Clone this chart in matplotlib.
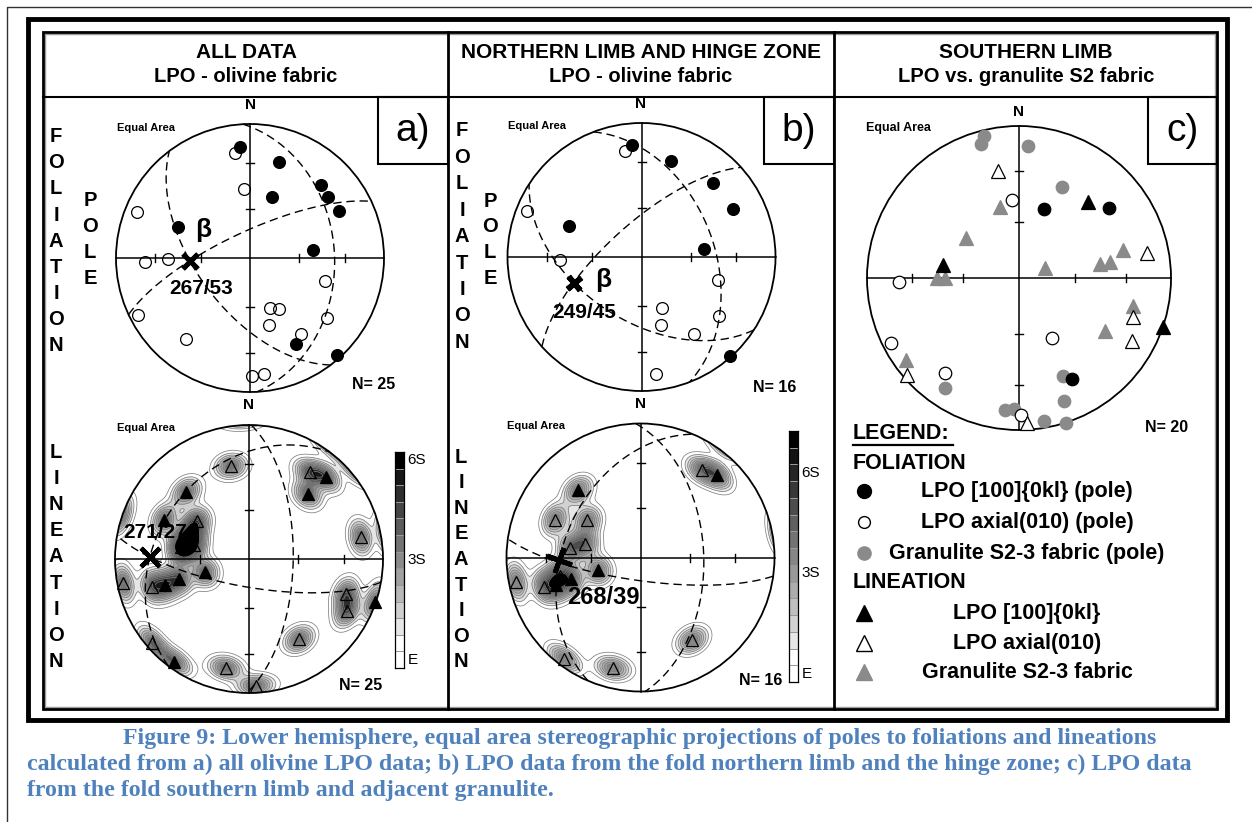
import numpy as np
import matplotlib
matplotlib.use("Agg")
import matplotlib.pyplot as plt
from matplotlib.patches import Rectangle, Circle

plt.rcParams["font.family"] = ["Liberation Sans", "DejaVu Sans"]

W, H = 1252, 822
CAPTION_BLUE = "#4f81bd"
GREY = "#8a8a8a"

# ---------------- data (trend / plunge in degrees) ----------------
# a) all data - foliation poles
a_fol_lpo_trend = [355, 17, 20, 44, 52, 62, 293, 83, 152, 138]
a_fol_lpo_plunge = [18, 26, 50, 25, 27, 26, 41, 51, 28, 3]
a_fol_ax_trend = [352, 355, 292, 268, 269, 107, 158, 150, 164, 128, 146, 218, 243, 179, 173]
a_fol_ax_plunge = [22, 47, 10, 23, 39, 41, 57, 54, 47, 28, 32, 24, 7, 13, 14]
a_fol_gc_dipdir = [87, 233, 335]
a_fol_gc_dip = [37, 58, 74]
a_fol_beta = (267, 53)

# a) all data - lineations
a_lin_lpo_trend = [43, 42, 317, 295, 280, 253, 254, 253, 109, 216]
a_lin_lpo_plunge = [17, 35, 32, 31, 49, 62, 45, 35, 1, 6]
a_lin_ax_trend = [349, 35, 306, 284, 280, 79, 259, 254, 110, 118, 229, 148, 192, 177, 294]
a_lin_ax_plunge = [30, 22, 50, 55, 47, 16, 5, 26, 24, 18, 5, 30, 18, 6, 51]
a_lin_gc_dipdir = [91, 307, 190]
a_lin_gc_dip = [63, 32, 73]
a_lin_beta = (271, 27)

# b) northern limb and hinge zone - foliation poles
b_fol_lpo_trend = [355, 17, 44, 62, 293, 83, 138]
b_fol_lpo_plunge = [17, 26, 24, 24, 41, 51, 1]
b_fol_ax_trend = [351, 292, 268, 107, 158, 164, 127, 146, 173]
b_fol_ax_plunge = [21, 9, 39, 40, 56, 46, 28, 31, 13]
b_fol_gc_dipdir = [69, 213, 318]
b_fol_gc_dip = [45, 51, 70]
b_fol_beta = (249, 45)

# b) northern limb and hinge zone - lineations
b_lin_lpo_trend = [43, 317, 253, 253, 252]
b_lin_lpo_plunge = [17, 32, 63, 45, 34]
b_lin_ax_trend = [35, 294, 305, 284, 278, 259, 253, 148, 217, 194, 257]
b_lin_ax_plunge = [21, 31, 50, 55, 46, 6, 26, 28, 6, 16, 38]
b_lin_gc_dipdir = [88, 188, 293]
b_lin_gc_dip = [51, 76, 42]
b_lin_beta = (268, 39)

# c) southern limb - LPO vs granulite
c_fol_lpo_trend = [20, 52, 152]
c_fol_lpo_plunge = [50, 26, 26]
c_fol_ax_trend = [355, 268, 151, 243, 218, 179]
c_fol_ax_plunge = [47, 22, 53, 6, 22, 11]
c_fol_gran_trend = [346, 344, 4, 25, 214, 156, 160, 186, 182, 170, 162]
c_fol_gran_plunge = [4, 9, 14, 34, 14, 30, 15, 14, 15, 5, 0]
c_lin_lpo_trend = [42, 280, 109]
c_lin_lpo_plunge = [33, 48, 0]
c_lin_ax_trend = [349, 79, 109, 119, 229, 177]
c_lin_ax_plunge = [29, 15, 22, 16, 3, 5]
c_lin_gran_trend = [345, 307, 70, 80, 80, 75, 270, 270, 104, 122, 234]
c_lin_gran_plunge = [50, 54, 75, 45, 39, 30, 45, 50, 24, 34, 9]

headers = [("ALL DATA", "LPO - olivine fabric"),
           ("NORTHERN LIMB AND HINGE ZONE", "LPO - olivine fabric"),
           ("SOUTHERN LIMB", "LPO vs. granulite S2 fabric")]
panel_tags = ["a)", "b)", "c)"]
n_counts = [25, 25, 16, 16, 20]
legend_labels = ["LPO [100]{0kl} (pole)", "LPO axial(010) (pole)", "Granulite S2-3 fabric (pole)",
                 "LPO [100]{0kl}", "LPO axial(010)", "Granulite S2-3 fabric"]
caption = ["Figure 9: Lower hemisphere, equal area stereographic projections of poles to foliations and lineations",
           "calculated from a) all olivine LPO data; b) LPO data from the fold northern limb and the hinge zone; c) LPO data",
           "from the fold southern limb and adjacent granulite."]


# ---------------- helpers ----------------
def project(trend, plunge):
    """Lower hemisphere equal-area projection, primitive radius = 1."""
    t = np.radians(np.asarray(trend, float))
    p = np.radians(np.asarray(plunge, float))
    rho = np.sqrt(2) * np.sin((np.pi / 2 - p) / 2)
    return rho * np.sin(t), rho * np.cos(t)


def plane_trace(dipdir, dip, n=241):
    d, dp = np.radians(dipdir), np.radians(dip)
    s = d - np.pi / 2
    sv = np.array([np.sin(s), np.cos(s), 0.0])
    dv = np.array([np.cos(dp) * np.sin(d), np.cos(dp) * np.cos(d), np.sin(dp)])
    a = np.linspace(0, np.pi, n)
    v = np.outer(np.cos(a), sv) + np.outer(np.sin(a), dv)
    tr = np.degrees(np.arctan2(v[:, 0], v[:, 1]))
    pl = np.degrees(np.arcsin(np.clip(v[:, 2], -1, 1)))
    return project(tr, pl)


def net_axes(fig, cx, cy, R):
    ax = fig.add_axes([(cx - R) / W, 1 - (cy + R) / H, 2 * R / W, 2 * R / H])
    ax.set_xlim(-1, 1)
    ax.set_ylim(-1, 1)
    ax.axis("off")
    return ax


def draw_net(ax, R):
    prim = Circle((0, 0), 1, fill=False, lw=1.3, ec="k", clip_on=False, zorder=5)
    ax.add_patch(prim)
    ax.plot([-1, 1], [0, 0], color="k", lw=1.1, zorder=5, clip_on=False)
    ax.plot([0, 0], [-1, 1], color="k", lw=1.1, zorder=5, clip_on=False)
    tick = 4.0 / R
    for pl in (60, 30):
        rho = project(90, pl)[0]
        for s in (-1, 1):
            ax.plot([s * rho] * 2, [-tick, tick], color="k", lw=1.0, zorder=5)
            ax.plot([-tick, tick], [s * rho] * 2, color="k", lw=1.0, zorder=5)


def draw_planes(ax, dipdirs, dips):
    for dd, dp in zip(dipdirs, dips):
        x, y = plane_trace(dd, dp)
        ax.plot(x, y, color="k", lw=1.0, dashes=(6, 3.5), zorder=4, clip_on=False)


def band_greys(nband):
    g = list(np.linspace(0.9, 0.0, nband - 2))
    return [1.0, 1.0] + g


def draw_density(ax, trend, plunge, nband, kappa=110.0, scale=4.0):
    xs = np.linspace(-1, 1, 321)
    X, Y = np.meshgrid(xs, xs)
    rho = np.clip(np.hypot(X, Y), 0, 1)
    th = 2 * np.arcsin(rho / np.sqrt(2))
    az = np.arctan2(X, Y)
    g = np.stack([np.sin(th) * np.sin(az), np.sin(th) * np.cos(az), np.cos(th)], axis=-1)
    t, p = np.radians(trend), np.radians(plunge)
    v = np.stack([np.cos(p) * np.sin(t), np.cos(p) * np.cos(t), np.sin(p)], axis=-1)
    c = np.abs(g @ v.T)
    D = scale * np.exp(kappa * (c - 1)).sum(axis=-1)
    levels = 0.5 * np.arange(1, nband)
    greys = band_greys(nband)
    cols = [str(v_) for v_ in greys[1:]]
    clip = Circle((0, 0), 1, transform=ax.transData, fill=False, lw=0)
    cf = ax.contourf(X, Y, D, levels=list(levels) + [1e9], colors=cols, zorder=1)
    cl = ax.contour(X, Y, D, levels=levels, colors="#808080", linewidths=0.55, zorder=2)
    cf.set_clip_path(clip)
    cl.set_clip_path(clip)


def draw_colorbar(fig, x0, y0, x1, y1, nband, labels, fs=11):
    cax = fig.add_axes([x0 / W, 1 - y1 / H, (x1 - x0) / W, (y1 - y0) / H])
    greys = band_greys(nband)
    vals = np.arange(nband).reshape(-1, 1)
    cax.pcolormesh(np.array([0, 1]), np.arange(nband + 1), vals,
                   cmap=matplotlib.colors.ListedColormap([str(g) for g in greys]),
                   vmin=-0.5, vmax=nband - 0.5, edgecolors="#999999", linewidth=0.4)
    cax.set_xlim(0, 1)
    cax.set_ylim(0, nband)
    cax.set_xticks([])
    cax.set_yticks([])
    for sp in cax.spines.values():
        sp.set_linewidth(0.9)
    for idx, txt in labels:
        cax.text(1.4, idx + 0.5, txt, transform=cax.transData, ha="left", va="center",
                 fontsize=fs, clip_on=False)


def plot_points(ax, trend, plunge, marker, fc, ec, ms, mew=0.9):
    x, y = project(trend, plunge)
    ax.plot(x, y, linestyle="none", marker=marker, mfc=fc, mec=ec, ms=ms, mew=mew,
            zorder=6, clip_on=False)


def mark_beta(ax, beta, marker, ms, mew, lab_off, lab_fs, beta_off=None):
    x, y = project(*beta)
    ax.plot(x, y, marker=marker, ms=ms, mew=mew, color="k", zorder=8, clip_on=False)
    ax.annotate(f"{beta[0]}/{beta[1]}", (x, y), xytext=lab_off, textcoords="offset pixels",
                ha="center", va="center", fontsize=lab_fs, fontweight="bold", zorder=9)
    if beta_off is not None:
        ax.annotate("\u03b2", (x, y), xytext=beta_off, textcoords="offset pixels",
                    ha="center", va="center", fontsize=19, fontweight="bold", zorder=9)


# ---------------- figure ----------------
fig = plt.figure(figsize=(W / 100, H / 100), dpi=100)
bg = fig.add_axes([0, 0, 1, 1])
bg.set_xlim(0, W)
bg.set_ylim(H, 0)
bg.axis("off")

# page and frames
bg.plot([7, 7, W], [H, 7, 7], color="#333333", lw=1.0)
bg.add_patch(Rectangle((28, 19), 1199, 701, fill=False, ec="k", lw=3.5))
bg.add_patch(Rectangle((45, 34), 1170, 673, fill=False, ec="#9a9a9a", lw=1.0))
bg.add_patch(Rectangle((43, 32), 1174, 677, fill=False, ec="k", lw=2.0))
bg.plot([43, 1217], [97, 97], color="k", lw=1.5)
for xd in (448, 834):
    bg.plot([xd, xd], [32, 709], color="k", lw=2.0)

col_centers = [246, 641, 1026]
for (l1, l2), xc in zip(headers, col_centers):
    bg.text(xc, 52, l1, ha="center", va="center", fontsize=15, fontweight="bold")
    bg.text(xc, 76, l2, ha="center", va="center", fontsize=14.5, fontweight="bold")

for tag, (x0, x1) in zip(panel_tags, [(378, 448), (764, 834), (1148, 1217)]):
    bg.add_patch(Rectangle((x0, 97), x1 - x0, 67, fill=False, ec="k", lw=1.5))
    bg.text((x0 + x1) / 2, 131, tag, ha="center", va="center", fontsize=28)


def vertical_word(word, x, y0, step):
    for i, ch in enumerate(word):
        bg.text(x, y0 + i * step, ch, ha="center", va="center", fontsize=14.5, fontweight="bold")


vertical_word("FOLIATION", 56, 137, 26)
vertical_word("POLE", 90, 200, 26)
vertical_word("LINEATION", 56, 452, 26.2)
vertical_word("FOLIATION", 462, 131, 26.4)
vertical_word("POLE", 490, 201, 25.7)
vertical_word("LINEATION", 461, 457, 25.6)

# panel geometry (pixels)
nets = {
    "a_fol": (250, 258, 134),
    "a_lin": (249, 559, 134),
    "b_fol": (641.5, 257, 134),
    "b_lin": (640.5, 557.5, 134),
    "c": (1019, 278, 152),
}
net_text = {
    "a_fol": ((250, 105), (117, 128), (352, 384)),
    "a_lin": ((249, 405), (117, 428), (339, 685)),
    "b_fol": ((641, 104), (508, 126), (753, 387)),
    "b_lin": ((641, 404), (507, 426), (739, 680)),
    "c": ((1019, 112), (866, 128), (1145, 427)),
}
for (key, (npos, epos, cpos)), n in zip(net_text.items(), n_counts):
    bg.text(npos[0], npos[1], "N", ha="center", va="center", fontsize=11, fontweight="bold")
    bg.text(epos[0], epos[1], "Equal Area", ha="left", va="center",
            fontsize=9 if key == "c" else 8, fontweight="bold")
    bg.text(cpos[0], cpos[1], f"N= {n}", ha="left", va="center", fontsize=11.5, fontweight="bold")

# a) foliation
cx, cy, R = nets["a_fol"]
ax = net_axes(fig, cx, cy, R)
draw_net(ax, R)
draw_planes(ax, a_fol_gc_dipdir, a_fol_gc_dip)
plot_points(ax, a_fol_lpo_trend, a_fol_lpo_plunge, "o", "k", "k", 8.5)
plot_points(ax, a_fol_ax_trend, a_fol_ax_plunge, "o", "none", "k", 8.5)
mark_beta(ax, a_fol_beta, (4, 2, 45), 15, 3.5, (11, -27), 15, beta_off=(13, 31))

# a) lineation
cx, cy, R = nets["a_lin"]
ax = net_axes(fig, cx, cy, R)
draw_density(ax, a_lin_lpo_trend + a_lin_ax_trend, a_lin_lpo_plunge + a_lin_ax_plunge, 13)
draw_net(ax, R)
draw_planes(ax, a_lin_gc_dipdir, a_lin_gc_dip)
plot_points(ax, a_lin_lpo_trend, a_lin_lpo_plunge, "^", "k", "k", 8.5)
plot_points(ax, a_lin_ax_trend, a_lin_ax_plunge, "^", "none", "k", 8.5)
mark_beta(ax, a_lin_beta, (4, 2, 45), 19, 3.2, (5, 25), 15)
draw_colorbar(fig, 395, 452, 404, 668, 13, [(12, "6S"), (6, "3S"), (0, "E")])

# b) foliation
cx, cy, R = nets["b_fol"]
ax = net_axes(fig, cx, cy, R)
draw_net(ax, R)
draw_planes(ax, b_fol_gc_dipdir, b_fol_gc_dip)
plot_points(ax, b_fol_lpo_trend, b_fol_lpo_plunge, "o", "k", "k", 8.5)
plot_points(ax, b_fol_ax_trend, b_fol_ax_plunge, "o", "none", "k", 8.5)
mark_beta(ax, b_fol_beta, (4, 2, 40), 13, 4.0, (10, -30), 15, beta_off=(29, 3))

# b) lineation
cx, cy, R = nets["b_lin"]
ax = net_axes(fig, cx, cy, R)
draw_density(ax, b_lin_lpo_trend + b_lin_ax_trend, b_lin_lpo_plunge + b_lin_ax_plunge, 15)
draw_net(ax, R)
draw_planes(ax, b_lin_gc_dipdir, b_lin_gc_dip)
plot_points(ax, b_lin_lpo_trend, b_lin_lpo_plunge, "^", "k", "k", 8.5)
plot_points(ax, b_lin_ax_trend, b_lin_ax_plunge, "^", "none", "k", 8.5)
mark_beta(ax, b_lin_beta, (4, 2, -20), 19, 3.5, (44, -37), 17)
draw_colorbar(fig, 789, 431, 798, 682, 15, [(12, "6S"), (6, "3S"), (0, "E")])

# c) southern limb
cx, cy, R = nets["c"]
ax = net_axes(fig, cx, cy, R)
draw_net(ax, R)
plot_points(ax, c_fol_gran_trend, c_fol_gran_plunge, "o", GREY, GREY, 9)
plot_points(ax, c_lin_gran_trend, c_lin_gran_plunge, "^", GREY, GREY, 10)
plot_points(ax, c_fol_lpo_trend, c_fol_lpo_plunge, "o", "k", "k", 9)
plot_points(ax, c_fol_ax_trend, c_fol_ax_plunge, "o", "white", "k", 9)
plot_points(ax, c_lin_lpo_trend, c_lin_lpo_plunge, "^", "k", "k", 10)
plot_points(ax, c_lin_ax_trend, c_lin_ax_plunge, "^", "white", "k", 10)

# legend (panel c)
bg.text(853, 433, "LEGEND:", ha="left", va="center", fontsize=15.5, fontweight="bold")
bg.plot([853, 953], [444.5, 444.5], color="k", lw=1.6)
bg.text(853, 463, "FOLIATION", ha="left", va="center", fontsize=15.5, fontweight="bold")
bg.text(853, 582, "LINEATION", ha="left", va="center", fontsize=15.5, fontweight="bold")
leg_rows = [491, 522, 553, 613, 643, 672]
leg_style = [("o", "k", "k", 10), ("o", "none", "k", 8.5), ("o", GREY, GREY, 9.5),
             ("^", "k", "k", 11.5), ("^", "none", "k", 11.5), ("^", GREY, GREY, 11.5)]
for yrow, (mk, fc, ec, ms), lab in zip(leg_rows, leg_style, legend_labels):
    bg.plot([864], [yrow], marker=mk, mfc=fc, mec=ec, ms=ms, mew=1.0, linestyle="none")
    bg.text(1027, yrow, lab, ha="center", va="center", fontsize=15.5, fontweight="bold")

# caption
cap_x = [123, 27, 27]
cap_y = [738, 764, 790]
for txt, xx, yy in zip(caption, cap_x, cap_y):
    bg.text(xx, yy, txt, ha="left", va="center", fontsize=17.2, fontweight="bold",
            color=CAPTION_BLUE, family=["Liberation Serif", "DejaVu Serif"])

fig.savefig("out.png", dpi=100)
